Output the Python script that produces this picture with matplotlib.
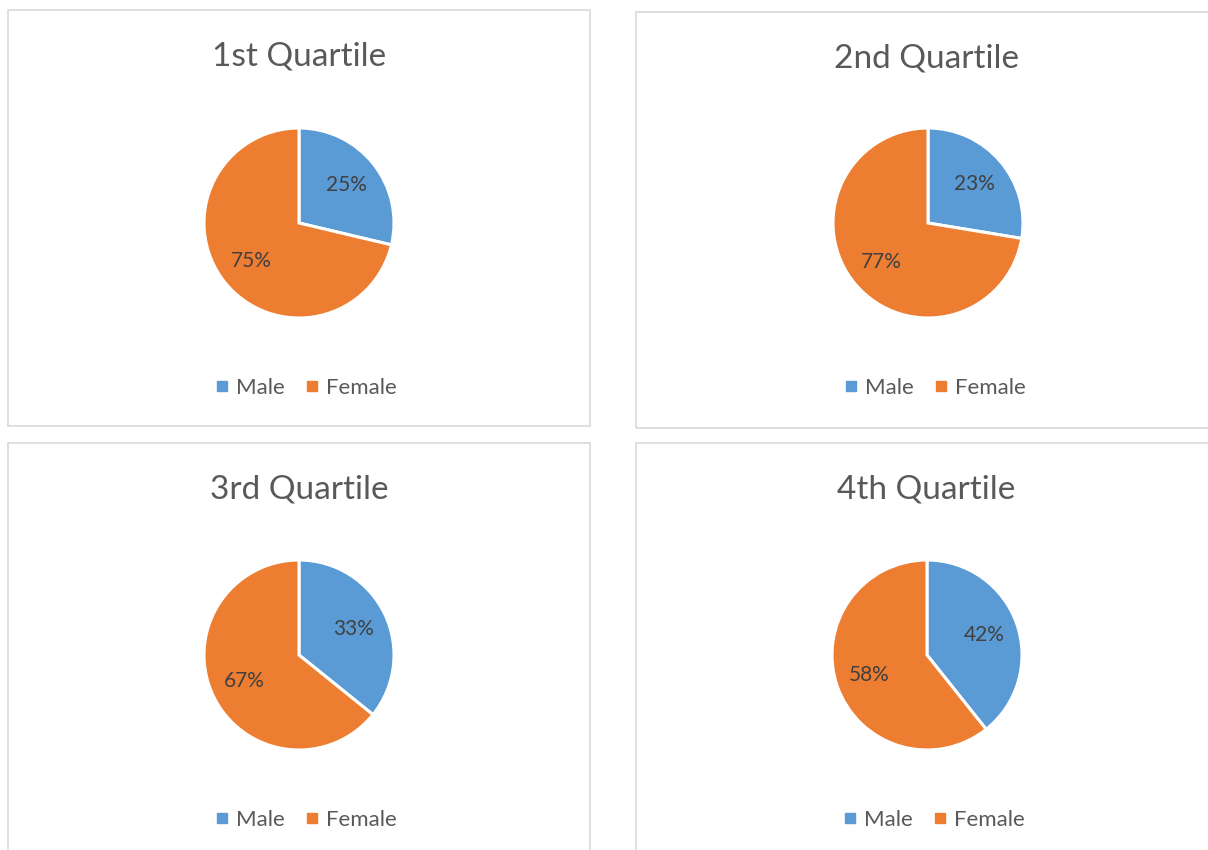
import matplotlib
matplotlib.use('Agg')
import numpy as np
from matplotlib import pyplot as plt
from matplotlib.patches import Rectangle
from matplotlib.lines import Line2D

## share of each wedge as drawn, and the data labels printed on them
titles = ['1st Quartile', '2nd Quartile', '3rd Quartile', '4th Quartile']
categories = ['Male', 'Female']
male_share = [28.7, 27.6, 35.8, 39.3]
male_labels = ['25%', '23%', '33%', '42%']
female_labels = ['75%', '77%', '67%', '58%']

colors = ['#5B9BD5', '#ED7D31']
W, H = 1208, 850

plt.rcParams['font.family'] = ['Lato', 'DejaVu Sans']

fig = plt.figure(figsize=(W / 100, H / 100), dpi=100)

# panel frames (pixel coords: left, top, right, bottom)
panels = [(8, 10, 590, 426), (636, 12, 1215, 428),
          (8, 443, 590, 860), (636, 443, 1215, 860)]
centers = [(299, 223), (928, 223), (299, 655), (927, 655)]
title_x = [299, 927, 299, 926]
radius = 95

for i in range(4):
	l, t, r, b = panels[i]
	fig.patches.append(Rectangle((l / W, 1 - b / H), (r - l) / W, (b - t) / H,
				transform=fig.transFigure, fill=False,
				edgecolor='#d9d9d9', linewidth=1.2))

	cx, cy = centers[i]
	ax = fig.add_axes([(cx - radius) / W, 1 - (cy + radius) / H,
				2 * radius / W, 2 * radius / H])
	vals = [male_share[i], 100 - male_share[i]]
	wedges, texts = ax.pie(vals, colors=colors, startangle=90, counterclock=False,
				radius=1, wedgeprops={'edgecolor': 'white', 'linewidth': 2.2})
	ax.set_xlim(-1, 1)
	ax.set_ylim(-1, 1)
	ax.set_aspect('equal')
	ax.axis('off')

	# data labels at the middle angle of each wedge
	labs = [male_labels[i], female_labels[i]]
	for w, lab in zip(wedges, labs):
		ang = np.deg2rad((w.theta1 + w.theta2) / 2)
		ax.text(0.64 * np.cos(ang), 0.64 * np.sin(ang), lab,
			ha='center', va='center', fontsize=15, color='#404040')

	fig.text(title_x[i] / W, 1 - (t + 47) / H, titles[i], ha='center', va='center',
		fontsize=24, color='#595959')

	handles = [Line2D([], [], marker='s', linestyle='', color=c, markersize=6.5)
		for c in colors]
	fig.legend(handles, categories, loc='center',
			bbox_to_anchor=((cx + 6) / W, 1 - (cy + 165) / H),
			ncol=2, frameon=False, fontsize=16, handlelength=0.8,
			handletextpad=0.25, columnspacing=0.8, labelcolor='#595959')

fig.savefig('out.png', dpi=100, facecolor='white')
